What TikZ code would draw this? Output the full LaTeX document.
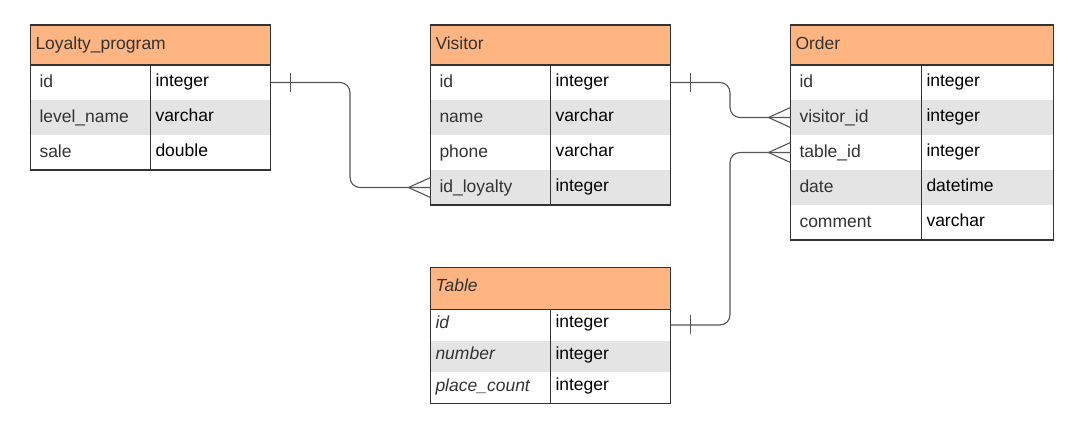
\documentclass[tikz,border=0pt]{standalone}
\usepackage{fontspec}
\setmainfont{Liberation Sans}
\definecolor{hdrorange}{HTML}{FFB581}
\definecolor{rowgrey}{HTML}{E4E4E4}
\definecolor{linegrey}{HTML}{333333}
\definecolor{txtgrey}{HTML}{333333}
\definecolor{conngrey}{HTML}{555555}
\begin{document}
\begin{tikzpicture}[x=1pt,y=-1pt,
    every node/.style={inner sep=0pt, outer sep=0pt, font=\fontsize{17.5}{21}\selectfont},
    hdr/.style={fill=hdrorange, anchor=north west, minimum height=40pt, inner xsep=5pt,
      text width=#1, text height=13pt, text depth=4pt, align=left, text=txtgrey},
    fld/.style={anchor=north west, minimum height=35pt, inner xsep=9pt,
      text width=#1, text height=13pt, text depth=4pt, align=left, text=txtgrey},
    typ/.style={anchor=north west, minimum height=35pt, inner xsep=5pt,
      text width=#1, text height=13pt, text depth=6pt, align=left, text=black},
    small/.style={minimum height=31.3pt, text depth=7pt},
    slant/.style={inner xsep=5pt, font=\fontsize{17.5}{21}\selectfont\itshape},
    zebra/.style={fill=rowgrey},
    tbl/.style={draw=linegrey, line width=1.2pt},
    conn/.style={draw=conngrey, line width=1.1pt, rounded corners=10pt},
    foot/.style={draw=conngrey, line width=1.1pt}]
  \useasboundingbox (0,0) rectangle (1085,432);

  % Loyalty_program
  \node[hdr=230pt] (lp) at (30.5,25) {Loyalty\_program};
  \node[fld=102pt] (lp-id) at (lp.south west) {id};
  \node[typ=110pt] (lp-id-t) at (lp-id.north east) {integer};
  \node[fld=102pt, zebra] (lp-lvl) at (lp-id.south west) {level\_name};
  \node[typ=110pt, zebra] (lp-lvl-t) at (lp-lvl.north east) {varchar};
  \node[fld=102pt] (lp-sale) at (lp-lvl.south west) {sale};
  \node[typ=110pt] (lp-sale-t) at (lp-sale.north east) {double};
  \draw[tbl] (lp.north west) rectangle (lp-sale-t.south east)
    (lp.south west) -- (lp.south east)
    (lp-id-t.north west) -- (lp-sale-t.south west);

  % Visitor
  \node[hdr=230pt] (v) at (430.5,25) {Visitor};
  \node[fld=102pt] (v-id) at (v.south west) {id};
  \node[typ=110pt] (v-id-t) at (v-id.north east) {integer};
  \node[fld=102pt, zebra] (v-name) at (v-id.south west) {name};
  \node[typ=110pt, zebra] (v-name-t) at (v-name.north east) {varchar};
  \node[fld=102pt] (v-phone) at (v-name.south west) {phone};
  \node[typ=110pt] (v-phone-t) at (v-phone.north east) {varchar};
  \node[fld=102pt, zebra] (v-loy) at (v-phone.south west) {id\_loyalty};
  \node[typ=110pt, zebra] (v-loy-t) at (v-loy.north east) {integer};
  \draw[tbl] (v.north west) rectangle (v-loy-t.south east)
    (v.south west) -- (v.south east)
    (v-id-t.north west) -- (v-loy-t.south west);

  % Order
  \node[hdr=253pt] (o) at (790.5,25) {Order};
  \node[fld=113pt] (o-id) at (o.south west) {id};
  \node[typ=122pt] (o-id-t) at (o-id.north east) {integer};
  \node[fld=113pt, zebra] (o-vis) at (o-id.south west) {visitor\_id};
  \node[typ=122pt, zebra] (o-vis-t) at (o-vis.north east) {integer};
  \node[fld=113pt] (o-tab) at (o-vis.south west) {table\_id};
  \node[typ=122pt] (o-tab-t) at (o-tab.north east) {integer};
  \node[fld=113pt, zebra] (o-date) at (o-tab.south west) {date};
  \node[typ=122pt, zebra] (o-date-t) at (o-date.north east) {datetime};
  \node[fld=113pt] (o-com) at (o-date.south west) {comment};
  \node[typ=122pt] (o-com-t) at (o-com.north east) {varchar};
  \draw[tbl] (o.north west) rectangle (o-com-t.south east)
    (o.south west) -- (o.south east)
    (o-id-t.north west) -- (o-com-t.south west);

  % Table
  \node[hdr=230pt, minimum height=42pt, text depth=6pt, font=\fontsize{17.5}{21}\selectfont\itshape] (t) at (430.5,267.3) {Table};
  \node[fld=110pt, slant, small, text depth=6pt] (t-id) at (t.south west) {id};
  \node[typ=110pt, small] (t-id-t) at (t-id.north east) {integer};
  \node[fld=110pt, slant, small, text depth=6pt, zebra] (t-num) at (t-id.south west) {number};
  \node[typ=110pt, small, zebra] (t-num-t) at (t-num.north east) {integer};
  \node[fld=110pt, slant, small, text depth=6pt] (t-place) at (t-num.south west) {place\_count};
  \node[typ=110pt, small] (t-place-t) at (t-place.north east) {integer};
  \draw[tbl] (t.north west) rectangle (t-place-t.south east)
    (t.south west) -- (t.south east)
    (t-id-t.north west) -- (t-place-t.south west);

  % connectors
  \coordinate (j1) at (350,0);
  \coordinate (j2) at (730,0);
  \draw[conn] (lp-id-t.east) -| (j1 |- v-loy.west) -- (v-loy.west);
  \draw[conn] (v-id-t.east) -| (j2 |- o-vis.west) -- (o-vis.west);
  \draw[conn] (t-id-t.east) -| (j2 |- o-tab.west) -- (o-tab.west);

  % one ends
  \draw[foot] ([xshift=20pt,yshift=9.5pt]lp-id-t.east) -- ([xshift=20pt,yshift=-9.5pt]lp-id-t.east);
  \draw[foot] ([xshift=20pt,yshift=9.5pt]v-id-t.east) -- ([xshift=20pt,yshift=-9.5pt]v-id-t.east);
  \draw[foot] ([xshift=20pt,yshift=9.5pt]t-id-t.east) -- ([xshift=20pt,yshift=-9.5pt]t-id-t.east);

  % many ends
  \draw[foot] ([yshift=10pt]v-loy.west) -- ([xshift=-22pt]v-loy.west) -- ([yshift=-10pt]v-loy.west);
  \draw[foot] ([yshift=10pt]o-vis.west) -- ([xshift=-22pt]o-vis.west) -- ([yshift=-10pt]o-vis.west);
  \draw[foot] ([yshift=10pt]o-tab.west) -- ([xshift=-22pt]o-tab.west) -- ([yshift=-10pt]o-tab.west);
\end{tikzpicture}
\end{document}
